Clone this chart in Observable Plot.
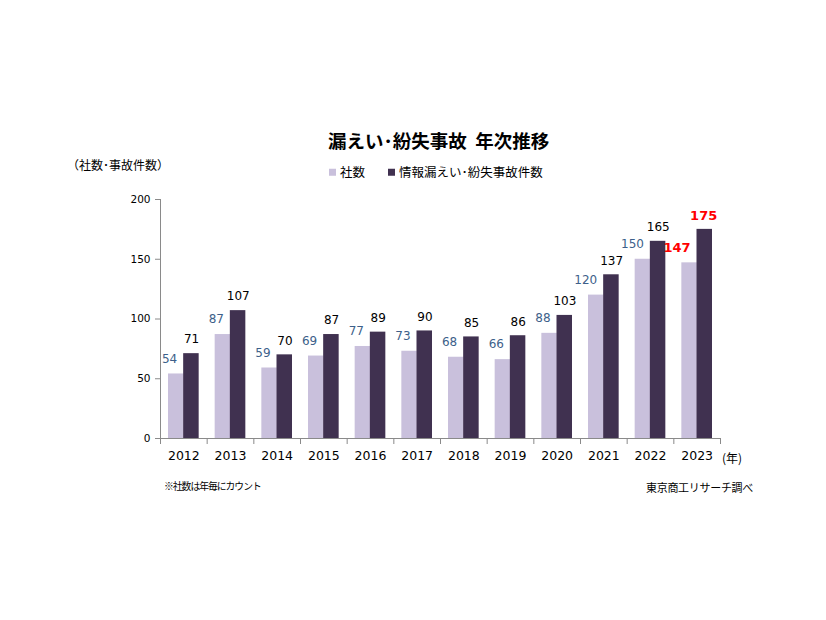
<!DOCTYPE html>
<html><head><meta charset="utf-8">
<script src="https://cdn.jsdelivr.net/npm/d3@7"></script>
<script src="https://cdn.jsdelivr.net/npm/@observablehq/plot@0.6"></script>
<style>
body{margin:0;background:#fff;}
#wrap{position:relative;width:826px;height:620px;overflow:hidden;background:#fff;}
#wrap svg{position:absolute;left:0;top:0;}
.t{position:absolute;font-family:"Noto Sans CJK JP",sans-serif;line-height:1;white-space:nowrap;color:#000;transform:translateY(-50%);}
.sq{display:inline-block;width:7px;height:7px;margin-right:4px;vertical-align:middle;position:relative;top:-1px;}
</style></head>
<body><div id="wrap"></div>
<script>
const years = [2012,2013,2014,2015,2016,2017,2018,2019,2020,2021,2022,2023];
const companies = [54,87,59,69,77,73,68,66,88,120,150,147];
const incidents = [71,107,70,87,89,90,85,86,103,137,165,175];
const seriesNames = ["社数","情報漏えい･紛失事故件数"];
const yTicks = [0,50,100,150,200];
const colors = ["#c9c0dc","#403150"];

const lightData = years.map((y,i)=>({year:y, v:companies[i], last: i===years.length-1}));
const darkData = years.map((y,i)=>({year:y, v:incidents[i], last: i===years.length-1}));
const step = (720-160)/years.length;
const half = step/2;

const plot = Plot.plot({
  width: 826, height: 620,
  marginLeft: 160, marginRight: 106, marginTop: 199, marginBottom: 182,
  style: {fontFamily: "DejaVu Sans, Verdana, sans-serif", background: "transparent"},
  x: {type: "band", domain: years, padding: 0, round: false, axis: null},
  y: {domain: [0,200], axis: null},
  marks: [
    Plot.barY(lightData, {x: "year", y: "v", fill: colors[0], insetLeft: 8, insetRight: step-8-15.5}),
    Plot.barY(darkData, {x: "year", y: "v", fill: colors[1], insetLeft: step-8-15.5, insetRight: 8}),
    Plot.ruleY([0], {stroke: "#8a8a8a"}),
    Plot.ruleX([years[0]], {x: d=>d, dx: -half, y1: 0, y2: 200, stroke: "#8a8a8a"}),
    Plot.axisX({ticks: years, tickSize: 6, text: null, label: null, dx: -half, stroke: "#8a8a8a", strokeOpacity: 1}),
    Plot.axisX({ticks: [years[years.length-1]], tickSize: 6, text: null, label: null, dx: half, stroke: "#8a8a8a", strokeOpacity: 1}),
    Plot.axisX({ticks: years, tickSize: 0, tickPadding: 13, fontSize: 12.5, fill: "#000", label: null, tickFormat: d=>String(d)}),
    Plot.axisY({ticks: yTicks, tickSize: 5, tickPadding: 5, fontSize: 10.5, label: null, stroke: "#8a8a8a", strokeOpacity: 1, fill: "#000"}),
    Plot.text(lightData.filter(d=>!d.last), {x: "year", y: "v", text: d=>String(d.v), dx: -half+8+7.75+1, dy: -15, textAnchor: "end", fill: "#3d5f8a", fontSize: 12}),
    Plot.text(darkData.filter(d=>!d.last), {x: "year", y: "v", text: d=>String(d.v), dx: 7.75, dy: -14, textAnchor: "middle", fill: "#000", fontSize: 12}),
    Plot.text(lightData.filter(d=>d.last), {x: "year", y: "v", text: d=>String(d.v), dx: -half+8+7.75+1, dy: -15, textAnchor: "end", fill: "#ff0000", fontSize: 13, fontWeight: "bold"}),
    Plot.text(darkData.filter(d=>d.last), {x: "year", y: "v", text: d=>String(d.v), dx: 6.5, dy: -14, textAnchor: "middle", fill: "#ff0000", fontSize: 13, fontWeight: "bold"})
  ]
});
const wrap = document.getElementById("wrap");
wrap.appendChild(plot);

function addText(txt, left, top, size, opts={}) {
  const d = document.createElement("div");
  d.className = "t";
  d.style.left = left + "px";
  d.style.top = top + "px";
  d.style.fontSize = size + "px";
  if (opts.bold) d.style.fontWeight = "bold";
  if (opts.ls != null) d.style.letterSpacing = opts.ls + "px";
  if (opts.right != null) { d.style.left = "auto"; d.style.right = opts.right + "px"; }
  if (opts.html) d.innerHTML = txt; else d.textContent = txt;
  wrap.appendChild(d);
  return d;
}
addText("漏えい･紛失事故&nbsp;&nbsp;年次推移", 328, 140, 18.5, {bold: true, html: true});
addText(`<span class="sq" style="background:${colors[0]}"></span>${seriesNames[0]}`, 329, 172, 12.5, {html: true});
addText(`<span class="sq" style="background:${colors[1]}"></span>${seriesNames[1]}`, 388, 172, 12.5, {html: true});
addText("（社数･事故件数）", 67, 165, 12);
addText("(年)", 722, 458, 12);
addText("※社数は年毎にカウント", 164, 487, 9.8, {ls: -1.0});
addText("東京商工リサーチ調べ", 0, 487, 11, {right: 826-753, ls: -0.3});
</script></body></html>
